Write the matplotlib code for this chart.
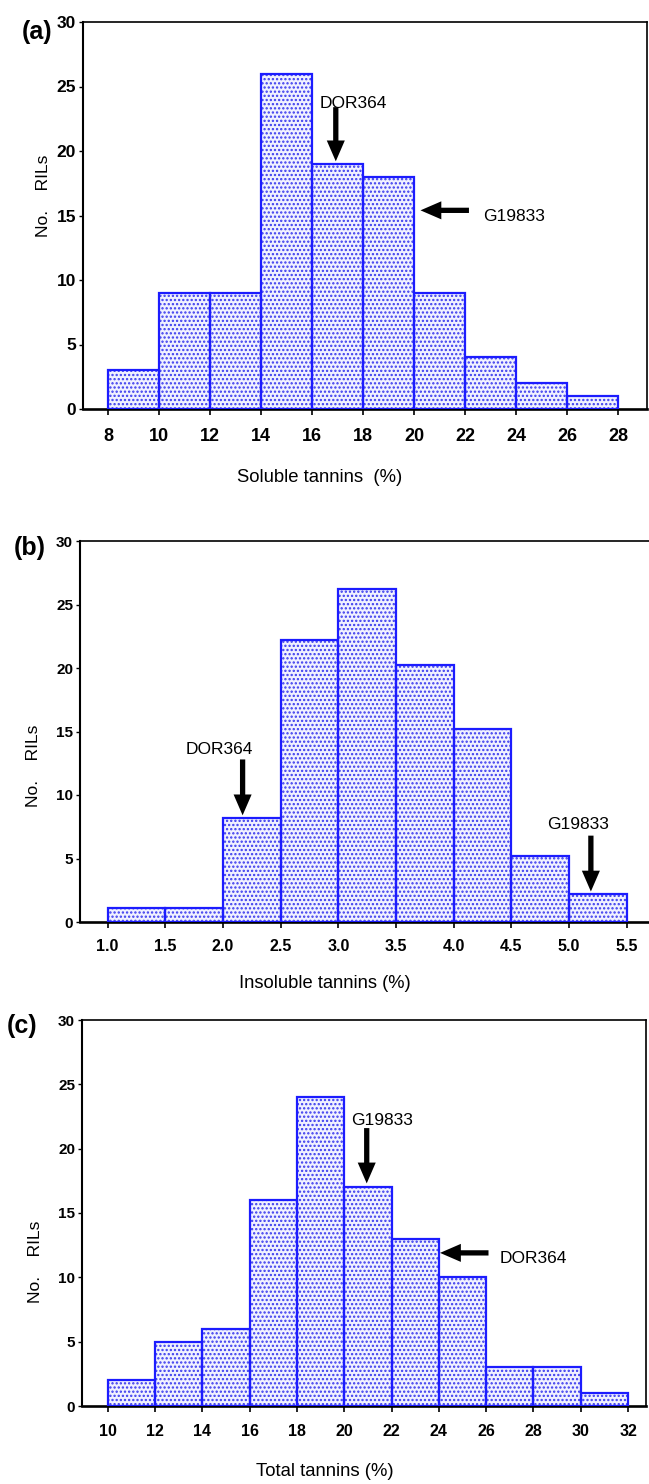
import numpy as np
import matplotlib
matplotlib.use("Agg")
import matplotlib.pyplot as plt

# ---------------- data ----------------
soluble_edges = [8, 10, 12, 14, 16, 18, 20, 22, 24, 26, 28]
soluble_counts = [3, 9, 9, 26, 19, 18, 9, 4, 2, 1]
soluble_ticks = [8, 10, 12, 14, 16, 18, 20, 22, 24, 26, 28]

insoluble_edges = [1.0, 1.5, 2.0, 2.5, 3.0, 3.5, 4.0, 4.5, 5.0, 5.5]
insoluble_counts = [1.1, 1.1, 8.2, 22.2, 26.2, 20.2, 15.2, 5.2, 2.2]
insoluble_ticks = ["1.0", "1.5", "2.0", "2.5", "3.0", "3.5", "4.0", "4.5", "5.0", "5.5"]

total_edges = [10, 12, 14, 16, 18, 20, 22, 24, 26, 28, 30, 32]
total_counts = [2, 5, 6, 16, 24, 17, 13, 10, 3, 3, 1]
total_ticks = [10, 12, 14, 16, 18, 20, 22, 24, 26, 28, 30, 32]

y_ticks = [0, 5, 10, 15, 20, 25, 30]

# parental markers: (label, arrow start (x,y), arrow tip (x,y), text position (x,y))
markers_a = [("DOR364", (16.93, 23.4), (16.93, 19.2), (17.6, 23.7)),
             ("G19833", (22.15, 15.4), (20.25, 15.4), (23.9, 14.95))]
markers_b = [("DOR364", (2.17, 12.8), (2.17, 8.4), (1.97, 13.6)),
             ("G19833", (5.19, 6.8), (5.19, 2.4), (5.08, 7.65))]
markers_c = [("G19833", (20.95, 21.6), (20.95, 17.3), (21.6, 22.2)),
             ("DOR364", (26.1, 11.9), (24.05, 11.9), (28.0, 11.5))]

# ---------------- style ----------------
FONT = ["Liberation Sans", "DejaVu Sans"]
plt.rcParams["font.family"] = FONT
plt.rcParams["hatch.linewidth"] = 1.1

FACE = "#f0f1ff"
DOTS = "#3a3aee"
EDGE = "#1c1cff"

fig = plt.figure(figsize=(6.49, 14.84), dpi=100)
W, H = 649.0, 1484.0


def make_axes(left, right, top, bottom):
    return fig.add_axes([left / W, 1 - bottom / H, (right - left) / W, (bottom - top) / H])


def draw_hist(ax, edges, counts):
    edges = np.asarray(edges, dtype=float)
    widths = np.diff(edges)
    ax.bar(edges[:-1], counts, width=widths, align="edge", color=FACE,
           edgecolor=DOTS, linewidth=0, hatch="....", zorder=2)
    ax.bar(edges[:-1], counts, width=widths, align="edge", fill=False,
           edgecolor=EDGE, linewidth=1.6, zorder=3)


def draw_markers(ax, markers, fs):
    for label, start, tip, tpos in markers:
        ax.annotate("", xy=tip, xytext=start,
                    arrowprops=dict(arrowstyle="simple,head_width=0.65,head_length=0.75,tail_width=0.19",
                                    fc="black", ec="none", lw=0, shrinkA=0, shrinkB=0,
                                    mutation_scale=20), zorder=5)
        ax.text(tpos[0], tpos[1], label, fontsize=fs, ha="center", va="center",
                zorder=6)


def style_axes(ax, xtick_fs, ytick_fs, xpad, right_spine=True):
    ax.set_ylim(0, 30)
    ax.set_yticks(y_ticks)
    ax.spines["left"].set_linewidth(1.5)
    ax.spines["bottom"].set_linewidth(1.9)
    ax.spines["top"].set_linewidth(1.2)
    ax.spines["right"].set_linewidth(1.2)
    ax.spines["right"].set_visible(right_spine)
    ax.tick_params(axis="x", direction="out", length=4, width=1.2, pad=xpad,
                   labelsize=xtick_fs)
    ax.tick_params(axis="y", direction="out", length=3, width=1.0, pad=2,
                   labelsize=ytick_fs)
    for lab in ax.get_xticklabels() + ax.get_yticklabels():
        lab.set_fontweight("bold")


# ---- panel (a) ----
ax1 = make_axes(83, 647, 22, 409)
draw_hist(ax1, soluble_edges, soluble_counts)
ax1.set_xlim(7.02, 29.13)
ax1.set_xticks(soluble_ticks)
ax1.set_xticklabels([str(t) for t in soluble_ticks])
style_axes(ax1, 13, 12.5, 10)
draw_markers(ax1, markers_a, 12.5)

# ---- panel (b) ----
ax2 = make_axes(80, 649, 541, 922)
draw_hist(ax2, insoluble_edges, insoluble_counts)
ax2.set_xlim(0.76, 5.694)
ax2.set_xticks([float(t) for t in insoluble_ticks])
ax2.set_xticklabels(insoluble_ticks)
style_axes(ax2, 11.5, 11, 8, right_spine=False)
draw_markers(ax2, markers_b, 12.5)

# ---- panel (c) ----
ax3 = make_axes(82, 646, 1020, 1406)
draw_hist(ax3, total_edges, total_counts)
ax3.set_xlim(8.91, 32.76)
ax3.set_xticks(total_ticks)
ax3.set_xticklabels([str(t) for t in total_ticks])
style_axes(ax3, 11.5, 11, 9)
draw_markers(ax3, markers_c, 12.5)

# ---- axis titles and panel letters ----
def ftext(x, y, s, **kw):
    fig.text(x / W, 1 - y / H, s, **kw)

ftext(320, 477, "Soluble tannins  (%)", fontsize=13.3, ha="center", va="center")
ftext(325, 984, "Insoluble tannins (%)", fontsize=13.2, ha="center", va="center")
ftext(325, 1472, "Total tannins (%)", fontsize=13.3, ha="center", va="center")

ftext(44, 196, "No.    RILs", fontsize=12.5, rotation=90, ha="center", va="center")
ftext(34, 766, "No.    RILs", fontsize=12.5, rotation=90, ha="center", va="center")
ftext(36, 1262, "No.    RILs", fontsize=12.5, rotation=90, ha="center", va="center")

ftext(37, 32, "(a)", fontsize=18, fontweight="bold", ha="center", va="center")
ftext(30, 548, "(b)", fontsize=18, fontweight="bold", ha="center", va="center")
ftext(22, 1026, "(c)", fontsize=18, fontweight="bold", ha="center", va="center")

fig.savefig("out.png", dpi=100)
